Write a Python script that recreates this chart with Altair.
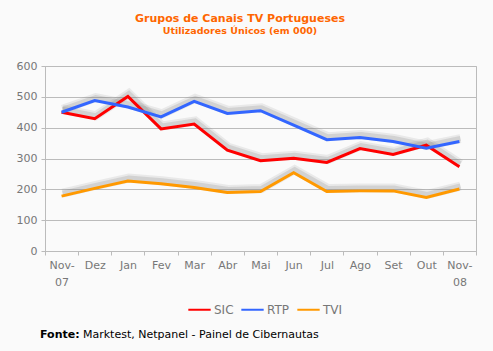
import altair as alt
import pandas as pd

months = ["Nov-\n07", "Dez", "Jan", "Fev", "Mar", "Abr", "Mai", "Jun", "Jul", "Ago", "Set", "Out", "Nov-\n08"]
sic = [450, 429, 501, 396, 412, 327, 293, 301, 287, 332, 313, 343, 273]
rtp = [450, 488, 467, 435, 485, 446, 455, 408, 361, 368, 355, 333, 355]
tvi = [178, 203, 227, 218, 206, 190, 193, 254, 193, 195, 195, 174, 201]
series = ["SIC", "RTP", "TVI"]
colors = ["#ff0000", "#3366ff", "#ff9900"]

rows = []
for name, vals in zip(series, [sic, rtp, tvi]):
    for m, v in zip(months, vals):
        rows.append({"mes": m, "serie": name, "valor": v})
df = pd.DataFrame(rows)

FONT = "DejaVu Sans"
GRAY = "#777777"

x = alt.X("mes:N", sort=months, title=None,
          scale=alt.Scale(type="band", paddingInner=0, paddingOuter=0),
          axis=alt.Axis(tickBand="extent", labelExpr="split(datum.label, '\\n')",
                        labelAngle=0, labelColor=GRAY, labelFont=FONT, labelFontSize=11,
                        labelPadding=4, gridColor="#bbbbbb", domainColor="#bbbbbb",
                        tickColor="#bbbbbb", tickSize=4, labelLineHeight=17))
y = alt.Y("valor:Q", title=None, scale=alt.Scale(domain=[0, 600], nice=False),
          axis=alt.Axis(values=[0, 100, 200, 300, 400, 500, 600], labelColor=GRAY,
                        labelFont=FONT, labelFontSize=11, gridColor="#bbbbbb",
                        domainColor="#bbbbbb", tickColor="#bbbbbb", tickSize=4, labelPadding=4))

shadow = alt.Chart(df).mark_line(strokeWidth=9, opacity=0.12, yOffset=-3, xOffset=1,
                                  color="#777777").encode(x=x, y=y, detail="serie:N")
shadow2 = alt.Chart(df).mark_line(strokeWidth=5, opacity=0.2, yOffset=-3, xOffset=1,
                                   color="#777777").encode(x=x, y=y, detail="serie:N")

lines = alt.Chart(df).mark_line(strokeWidth=3).encode(
    x=x, y=y,
    color=alt.Color("serie:N", sort=series,
                    scale=alt.Scale(domain=series, range=colors),
                    legend=alt.Legend(title=None, orient="none", direction="horizontal",
                                      legendX=142, legendY=231, symbolType="stroke",
                                      symbolSize=500, symbolStrokeWidth=2,
                                      labelFont=FONT, labelFontSize=12, labelColor=GRAY,
                                      labelOffset=2, columnPadding=3, symbolOffset=0))
)

def txt(text, xv, yv, size, color, bold=False, align="center"):
    return alt.Chart(pd.DataFrame({"t": [text]})).mark_text(
        font=FONT, fontSize=size, color=color, fontWeight="bold" if bold else "normal",
        align=align, baseline="alphabetic").encode(
        text="t:N", x=alt.value(xv), y=alt.value(yv))

title1 = txt("Grupos de Canais TV Portugueses", 195, -44, 11, "#ff6600", True)
title2 = txt("Utilizadores  Únicos  (em 000)", 195, -32, 9.5, "#ff6600", True)
foot1 = txt("Fonte:", -5, 272, 11, "#000000", True, "left")
foot2 = txt("Marktest, Netpanel - Painel de Cibernautas", 38, 272, 11, "#000000", False, "left")

chart = alt.layer(shadow, shadow2, lines, title1, title2, foot1, foot2).properties(
    width=431, height=185, background="#fafafa",
    autosize=alt.AutoSizeParams(type="none"),
    padding={"left": 45, "top": 66, "right": 17, "bottom": 100},
).configure_view(stroke="#bbbbbb", fill="#fafafa")

chart.save("out.html", embed_options={"renderer": "svg", "actions": False})
